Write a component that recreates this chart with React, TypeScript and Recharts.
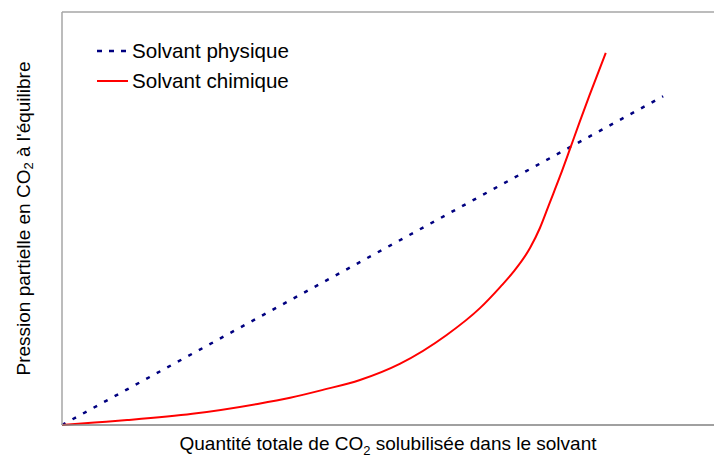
import { LineChart, Line, XAxis, YAxis, ReferenceLine } from "recharts";

// Solvant physique: droite
const PHYS_X = [0, 92.2];
const PHYS_Y = [0, 79.6];

// Solvant chimique: courbe
const CHEM_X = [0, 5, 10, 20, 30, 35, 40, 45.7, 51.8, 59, 64.1, 67.2, 69.2, 71.8, 73.3, 74.8, 76.4, 77.9, 79.4, 80.9, 83.4];
const CHEM_Y = [0, 0.6, 1.2, 2.7, 5.1, 6.6, 8.5, 10.9, 14.8, 21.8, 28.3, 33.4, 37, 42.9, 47.7, 53.8, 60.3, 66.8, 73.4, 79.8, 90.1];

const SERIES_NAMES = ["Solvant physique", "Solvant chimique"];

const physData = PHYS_X.map((x, i) => ({ x, y: PHYS_Y[i] }));
const chemData = CHEM_X.map((x, i) => ({ x, y: CHEM_Y[i] }));

const FONT = "'Liberation Sans', Arial, sans-serif";

function XLabel(props: any) {
  const { x, y, width } = props.viewBox;
  return (
    <text x={x + width / 2} y={y + 25} textAnchor="middle" fontSize={19} fontFamily={FONT} fill="#000">
      <tspan>Quantité totale de CO</tspan>
      <tspan fontSize={13} dy={5}>2</tspan>
      <tspan dy={-5}> solubilisée dans le solvant</tspan>
    </text>
  );
}

function YLabel(props: any) {
  const { y, height } = props.viewBox;
  const cx = 23;
  const cy = y + height / 2;
  return (
    <text
      x={cx}
      y={cy}
      transform={`rotate(-90 ${cx} ${cy})`}
      textAnchor="middle"
      dominantBaseline="central"
      fontSize={19}
      fontFamily={FONT}
      fill="#000"
    >
      <tspan>Pression partielle en CO</tspan>
      <tspan fontSize={13} dy={5}>2</tspan>
      <tspan dy={-5}> à l'équilibre</tspan>
    </text>
  );
}

function LegendBox() {
  return (
    <div style={{ position: "absolute", left: 96, top: 36, fontFamily: FONT, fontSize: 20.6, color: "#000" }}>
      {SERIES_NAMES.map((name, i) => (
        <div key={name} style={{ display: "flex", alignItems: "center", height: 30 }}>
          <svg width={36} height={10}>
            {i === 0 ? (
              <line x1={1} y1={5} x2={32} y2={5} stroke="#000080" strokeWidth={2.5} strokeDasharray="5 7" />
            ) : (
              <line x1={1} y1={5} x2={32} y2={5} stroke="#ff0000" strokeWidth={2} />
            )}
          </svg>
          <span>{name}</span>
        </div>
      ))}
    </div>
  );
}

export default function App() {
  return (
    <div style={{ position: "absolute", left: 0, top: 0, width: 714, height: 460, background: "#fff" }}>
      <LineChart width={714} height={460} margin={{ top: 12, right: 0, bottom: 0, left: 0 }}>
        <XAxis
          type="number"
          dataKey="x"
          domain={[0, 100]}
          tick={false}
          tickLine={false}
          height={35}
          axisLine={{ stroke: "#808080", strokeWidth: 1.5 }}
          label={<XLabel />}
        />
        <YAxis
          type="number"
          dataKey="y"
          domain={[0, 100]}
          tick={false}
          tickLine={false}
          width={62}
          axisLine={{ stroke: "#a6a6a6", strokeWidth: 1.5 }}
          label={<YLabel />}
        />
        <ReferenceLine y={100} stroke="#a6a6a6" strokeWidth={1.5} />
        <Line
          data={physData}
          dataKey="y"
          name={SERIES_NAMES[0]}
          type="linear"
          stroke="#000080"
          strokeWidth={2.5}
          strokeDasharray="4 8"
          dot={false}
          isAnimationActive={false}
        />
        <Line
          data={chemData}
          dataKey="y"
          name={SERIES_NAMES[1]}
          type="monotone"
          stroke="#ff0000"
          strokeWidth={2}
          dot={false}
          isAnimationActive={false}
        />
      </LineChart>
      <LegendBox />
    </div>
  );
}
